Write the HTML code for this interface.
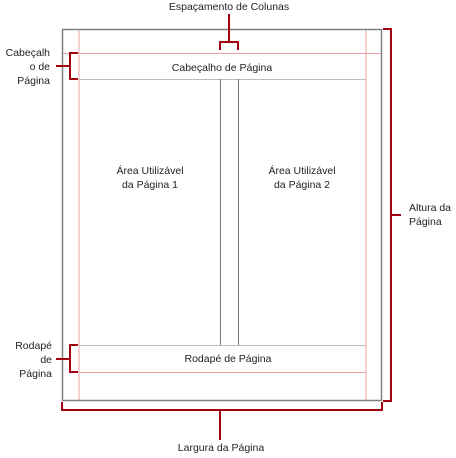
<!DOCTYPE html>
<html><head><meta charset="utf-8"><style>
body{margin:0;background:#fff}
svg text{font-family:"Liberation Sans","DejaVu Sans",sans-serif;font-size:10.5px;fill:#222}
</style></head><body>
<svg width="456" height="453" viewBox="0 0 456 453">
<rect x="0" y="0" width="456" height="453" fill="#fff"/>
<g fill="none">
<line x1="79" y1="29" x2="79" y2="401" stroke="#f0a0a0" stroke-width="1"/>
<line x1="366" y1="29" x2="366" y2="401" stroke="#f0a0a0" stroke-width="1"/>
<line x1="62" y1="53.5" x2="382" y2="53.5" stroke="#f0a0a0"/>
<line x1="79" y1="79.5" x2="366" y2="79.5" stroke="#bbb"/>
<line x1="79" y1="345.5" x2="366" y2="345.5" stroke="#bbb"/>
<line x1="79" y1="372.5" x2="366" y2="372.5" stroke="#f0a0a0"/>
<line x1="220.5" y1="79" x2="220.5" y2="345" stroke="#777"/>
<line x1="238.5" y1="79" x2="238.5" y2="345" stroke="#777"/>
<rect x="62.5" y="29.5" width="319" height="371" stroke="#808080" stroke-width="1.5"/>
<g stroke="#a00010" stroke-width="2">
<polyline points="229,14 229,42"/>
<polyline points="220,50 220,42 238,42 238,50"/>
<polyline points="78,53 70,53 70,79 78,79"/>
<line x1="56" y1="66" x2="70" y2="66"/>
<polyline points="78,345 70,345 70,372 78,372"/>
<line x1="56" y1="359" x2="70" y2="359"/>
<polyline points="383,29 391,29 391,401 383,401"/>
<line x1="391" y1="215" x2="401" y2="215"/>
<polyline points="62,402 62,410 382,410 382,402"/>
<line x1="220" y1="410" x2="220" y2="440"/>
</g>
</g>
<text x="229" y="10" text-anchor="middle">Espaçamento de Colunas</text>
<text x="222" y="71" text-anchor="middle">Cabeçalho de Página</text>
<text x="228" y="362" text-anchor="middle">Rodapé de Página</text>
<text x="150" y="174" text-anchor="middle">Área Utilizável</text>
<text x="150" y="188" text-anchor="middle">da Página 1</text>
<text x="302" y="174" text-anchor="middle">Área Utilizável</text>
<text x="302" y="188" text-anchor="middle">da Página 2</text>
<text x="50" y="56" text-anchor="end">Cabeçalh</text>
<text x="50" y="70" text-anchor="end">o de</text>
<text x="50" y="84" text-anchor="end">Página</text>
<text x="52" y="349" text-anchor="end">Rodapé</text>
<text x="52" y="363" text-anchor="end">de</text>
<text x="52" y="377" text-anchor="end">Página</text>
<text x="409" y="211">Altura da</text>
<text x="409" y="225">Página</text>
<text x="221" y="451" text-anchor="middle">Largura da Página</text>
</svg>
</body></html>
